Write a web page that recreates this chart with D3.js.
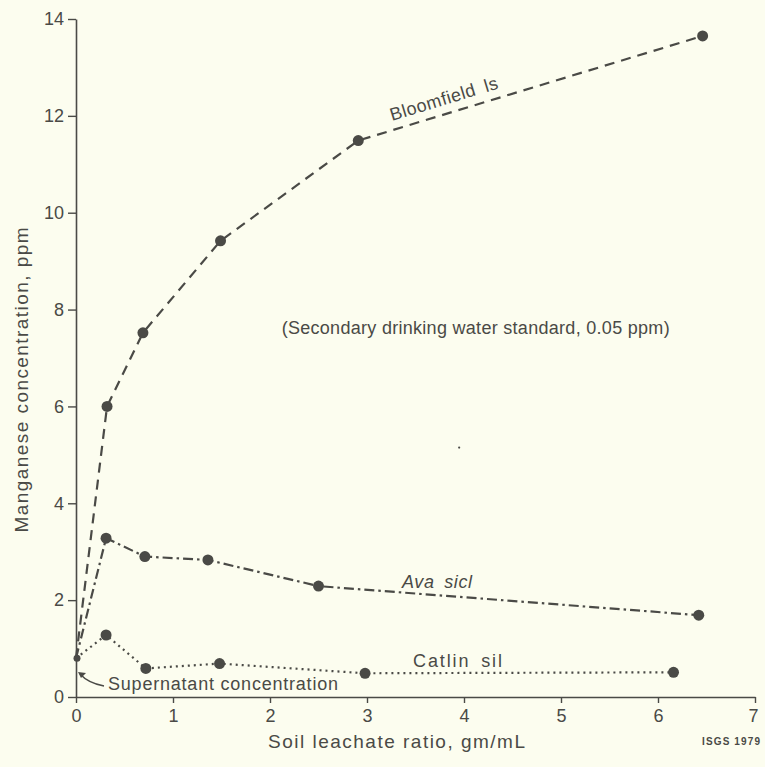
<!DOCTYPE html>
<html>
<head>
<meta charset="utf-8">
<script src="https://cdn.jsdelivr.net/npm/d3@7"></script>
<style>
  html, body { margin: 0; padding: 0; background: #fcfdef; }
  svg { display: block; }
  text { font-family: "Liberation Sans", Arial, sans-serif; fill: #4a4a46; }
</style>
</head>
<body>
<svg id="chart" width="765" height="767"></svg>
<script>
// ---- data ----
const xTicks = [0, 1, 2, 3, 4, 5, 6, 7];
const yTicks = [0, 2, 4, 6, 8, 10, 12, 14];

const bloomfieldX = [0, 0.32, 0.69, 1.49, 2.91, 6.46];
const bloomfieldY = [0.8, 6.0, 7.52, 9.42, 11.49, 13.65];

const avaX = [0, 0.31, 0.71, 1.36, 2.50, 6.42];
const avaY = [0.8, 3.28, 2.90, 2.83, 2.29, 1.69];

const catlinX = [0, 0.31, 0.72, 1.48, 2.98, 6.16];
const catlinY = [0.8, 1.28, 0.59, 0.69, 0.49, 0.51];

const xTitle = "Soil leachate ratio, gm/mL";
const yTitle = "Manganese concentration, ppm";
const noteText = "(Secondary drinking water standard, 0.05 ppm)";
const supernatantText = "Supernatant concentration";
const creditText = "ISGS 1979";

// ---- layout ----
const svg = d3.select("#chart");
const ink = "#4a4a46";
const x = d3.scaleLinear().domain([0, 7]).range([76, 755]);
const y = d3.scaleLinear().domain([0, 14]).range([697, 19]);

// axes
const xAxis = d3.axisBottom(x).tickValues(xTicks).tickSize(6).tickSizeOuter(0).tickPadding(6)
  .tickFormat(d3.format("d"));
const gx = svg.append("g").attr("transform", `translate(0,${y(0)})`).call(xAxis);
const yAxis = d3.axisLeft(y).tickValues(yTicks).tickSize(8).tickSizeOuter(0).tickPadding(4)
  .tickFormat(d3.format("d"));
const gy = svg.append("g").attr("transform", `translate(${x(0)},0)`).call(yAxis);
[gx, gy].forEach(g => {
  g.select(".domain").attr("stroke", ink).attr("stroke-width", 1.6);
  g.selectAll(".tick line").attr("stroke", ink).attr("stroke-width", 1.4);
  g.selectAll(".tick text").style("font-size", "18px").style("font-family", "'Liberation Sans', Arial, sans-serif").attr("fill", "#505050");
});
gx.selectAll(".tick text").filter(d => d === 7).attr("dx", "-2");

// axis titles
svg.append("text").attr("x", 268).attr("y", 748).style("font-size", "19px")
  .attr("textLength", 257).attr("lengthAdjust", "spacing").text(xTitle);
svg.append("text").attr("transform", `translate(28,${(y(0) + y(14)) / 2 + 22}) rotate(-90)`)
  .attr("text-anchor", "middle").style("font-size", "19px")
  .attr("textLength", 305).attr("lengthAdjust", "spacing").text(yTitle);
svg.append("text").attr("x", 702).attr("y", 745)
  .style("font-size", "10px").style("font-weight", "bold")
  .attr("textLength", 58).attr("lengthAdjust", "spacing").text(creditText);

// series
const series = [
  { name: "Bloomfield ls", xs: bloomfieldX, ys: bloomfieldY, dash: "10,7" },
  { name: "Ava sicl", xs: avaX, ys: avaY, dash: "10,4,2.5,4" },
  { name: "Catlin sil", xs: catlinX, ys: catlinY, dash: "2,4" }
];
const line = d3.line().x(d => x(d[0])).y(d => y(d[1]));
series.forEach(s => {
  const pts = s.xs.map((v, i) => [v, s.ys[i]]);
  svg.append("path").datum(pts).attr("d", line)
    .attr("fill", "none").attr("stroke", ink).attr("stroke-width", 2.2)
    .attr("stroke-dasharray", s.dash);
  svg.selectAll(null).data(pts.slice(1)).enter().append("circle")
    .attr("cx", d => x(d[0])).attr("cy", d => y(d[1])).attr("r", 5.5).attr("fill", ink);
});
svg.append("circle").attr("cx", x(0) + 1).attr("cy", y(0.8)).attr("r", 3.5).attr("fill", ink);

// series labels
svg.append("text").attr("transform", `translate(392,121) rotate(-17)`).style("font-size", "18px")
  .attr("textLength", 112).attr("lengthAdjust", "spacing").text("Bloomfield\u2002ls");
svg.append("text").attr("x", 402).attr("y", 588).style("font-size", "18px").style("font-style", "italic")
  .attr("textLength", 70).attr("lengthAdjust", "spacing").text("Ava\u2002sicl");
svg.append("text").attr("x", 413).attr("y", 667).style("font-size", "18px")
  .attr("textLength", 89).attr("lengthAdjust", "spacing").text("Catlin\u2002sil");

// note
svg.append("text").attr("x", x(2.12)).attr("y", y(7.5)).style("font-size", "18px")
  .attr("textLength", 388).attr("lengthAdjust", "spacing").text(noteText);
// small speck in the original print
svg.append("circle").attr("cx", x(3.95)).attr("cy", y(5.15)).attr("r", 1.1).attr("fill", ink);

// supernatant annotation
svg.append("text").attr("x", 108).attr("y", 690).style("font-size", "18px")
  .attr("textLength", 230).attr("lengthAdjust", "spacing").text(supernatantText);
svg.append("path").attr("d", "M104,686 Q88,683 80,674").attr("fill", "none").attr("stroke", ink).attr("stroke-width", 1.4);
svg.append("path").attr("d", "M78,672 L86,673 L81,678 Z").attr("fill", ink);
</script>
</body>
</html>
